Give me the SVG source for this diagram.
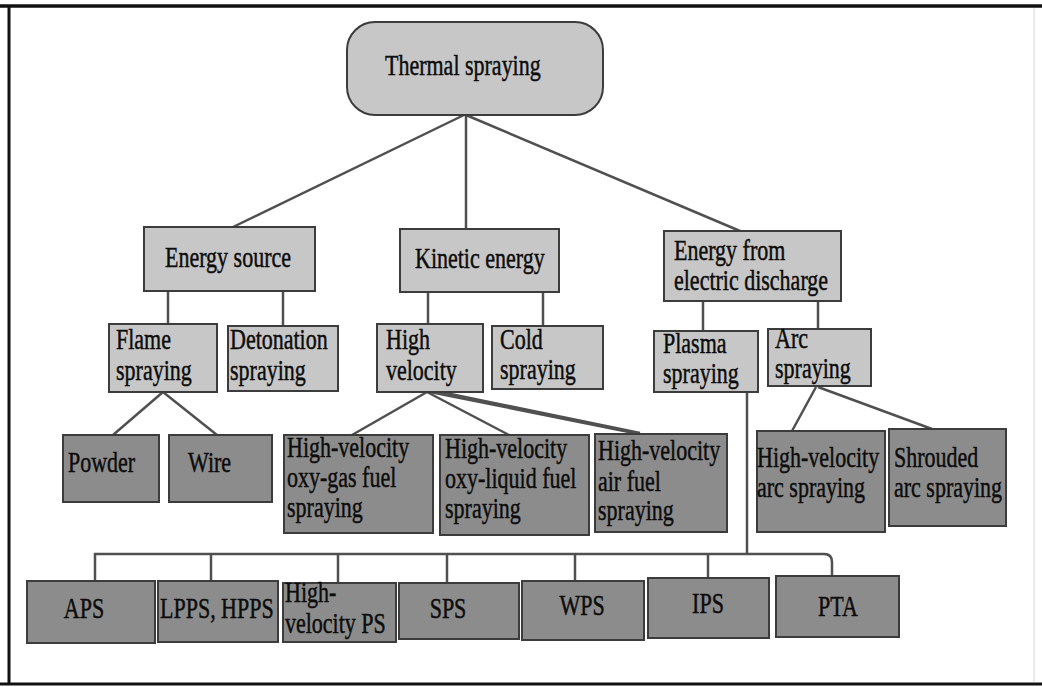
<svg xmlns="http://www.w3.org/2000/svg" width="1042" height="687" viewBox="0 0 1042 687">
<style>
.lt{fill:#c7c7c7;stroke:#3c3c3c;stroke-width:2}
.dk{fill:#8c8c8c;stroke:#3c3c3c;stroke-width:2}
.t{font-family:"Liberation Serif","Times New Roman",serif;font-size:22px;fill:#0c0c0c;stroke:#0c0c0c;stroke-width:0.35}
.c{text-anchor:middle}
.ln{stroke:#505050;stroke-width:2.5;fill:none}
</style>
<rect x="0" y="0" width="1042" height="687" fill="#ffffff"/>
<g id="frame">
<line x1="0" y1="6" x2="1042" y2="6" stroke="#111" stroke-width="3.5"/>
<line x1="9" y1="6" x2="9" y2="685" stroke="#111" stroke-width="3"/>
<line x1="0" y1="684" x2="1042" y2="684" stroke="#111" stroke-width="3"/>
<line x1="1034" y1="8" x2="1034" y2="682" stroke="#e4e4e4" stroke-width="1.5"/>
</g>
<g id="connectors" class="ln">
<line x1="464" y1="115" x2="233" y2="227"/>
<line x1="466" y1="115" x2="466" y2="229"/>
<line x1="466" y1="115" x2="740" y2="231"/>
<line x1="168" y1="291" x2="168" y2="324"/>
<line x1="283" y1="291" x2="283" y2="326"/>
<line x1="428" y1="292" x2="428" y2="324"/>
<line x1="543" y1="292" x2="543" y2="326"/>
<line x1="703" y1="301" x2="703" y2="331"/>
<line x1="818" y1="301" x2="818" y2="329"/>
<line x1="163" y1="392" x2="113" y2="435"/>
<line x1="163" y1="392" x2="217" y2="435"/>
<line x1="427" y1="392" x2="352" y2="435"/>
<line x1="427" y1="392" x2="509" y2="435"/>
<line x1="430" y1="392" x2="634" y2="433"/>
<line x1="436" y1="391" x2="640" y2="433"/>
<line x1="816" y1="387" x2="792" y2="431"/>
<line x1="818" y1="387" x2="932" y2="429"/>
<line x1="747" y1="392" x2="747" y2="554"/>
<path d="M95,581 V554 H824 Q832,554 832,562 V576"/>
<line x1="211" y1="554" x2="211" y2="581"/>
<line x1="338" y1="554" x2="338" y2="583"/>
<line x1="447" y1="554" x2="447" y2="583"/>
<line x1="575" y1="554" x2="575" y2="581"/>
<line x1="708" y1="554" x2="708" y2="578"/>
</g>
<g id="n-root">
<rect x="347" y="22" width="256" height="93" rx="28" ry="28" class="lt"/>
<text class="t" transform="translate(385,75) scale(1,1.35)">Thermal spraying</text>
</g>
<g id="n-energy-source">
<rect x="144" y="227" width="171" height="64" class="lt"/>
<text class="t" transform="translate(165,267) scale(1,1.35)">Energy source</text>
</g>
<g id="n-kinetic">
<rect x="400" y="229" width="159" height="63" class="lt"/>
<text class="t" transform="translate(415,268) scale(1,1.35)">Kinetic energy</text>
</g>
<g id="n-electric">
<rect x="664" y="231" width="177" height="70" class="lt"/>
<text class="t" transform="translate(674,260) scale(1,1.35)">Energy from<tspan x="0" dy="22.2">electric discharge</tspan></text>
</g>
<g id="n-flame">
<rect x="109" y="324" width="108" height="68" class="lt"/>
<text class="t" transform="translate(116,349) scale(1,1.35)">Flame<tspan x="0" dy="23">spraying</tspan></text>
</g>
<g id="n-detonation">
<rect x="228" y="326" width="110" height="65" class="lt"/>
<text class="t" transform="translate(230,349) scale(1,1.35)">Detonation<tspan x="0" dy="23">spraying</tspan></text>
</g>
<g id="n-high-velocity">
<rect x="377" y="324" width="106" height="68" class="lt"/>
<text class="t" transform="translate(386,349) scale(1,1.35)">High<tspan x="0" dy="23">velocity</tspan></text>
</g>
<g id="n-cold">
<rect x="492" y="326" width="111" height="63" class="lt"/>
<text class="t" transform="translate(500,349) scale(1,1.35)">Cold<tspan x="0" dy="22">spraying</tspan></text>
</g>
<g id="n-plasma">
<rect x="654" y="331" width="104" height="61" class="lt"/>
<text class="t" transform="translate(663,353) scale(1,1.35)">Plasma<tspan x="0" dy="22.2">spraying</tspan></text>
</g>
<g id="n-arc">
<rect x="768" y="329" width="103" height="57" class="lt"/>
<text class="t" transform="translate(775,348) scale(1,1.35)">Arc<tspan x="0" dy="22.2">spraying</tspan></text>
</g>
<g id="n-powder">
<rect x="63" y="435" width="96" height="67" class="dk"/>
<text class="t" transform="translate(68,472) scale(1,1.35)">Powder</text>
</g>
<g id="n-wire">
<rect x="169" y="435" width="103" height="67" class="dk"/>
<text class="t" transform="translate(188,472) scale(1,1.35)">Wire</text>
</g>
<g id="n-hvogf">
<rect x="284" y="435" width="149" height="98" class="dk"/>
<text class="t" transform="translate(287,457) scale(1,1.35)">High-velocity<tspan x="0" dy="22.2">oxy-gas fuel</tspan><tspan x="0" dy="22.2">spraying</tspan></text>
</g>
<g id="n-hvolf">
<rect x="440" y="435" width="149" height="100" class="dk"/>
<text class="t" transform="translate(445,458) scale(1,1.35)">High-velocity<tspan x="0" dy="22.2">oxy-liquid fuel</tspan><tspan x="0" dy="22.2">spraying</tspan></text>
</g>
<g id="n-hvaf">
<rect x="595" y="434" width="132" height="98" class="dk"/>
<text class="t" transform="translate(598,460) scale(1,1.35)">High-velocity<tspan x="0" dy="22.6">air fuel</tspan><tspan x="0" dy="22.2">spraying</tspan></text>
</g>
<g id="n-hvarc">
<rect x="757" y="431" width="128" height="101" class="dk"/>
<text class="t" transform="translate(757,467) scale(1,1.35)">High-velocity<tspan x="0" dy="22.2">arc spraying</tspan></text>
</g>
<g id="n-shrouded">
<rect x="889" y="429" width="117" height="97" class="dk"/>
<text class="t" transform="translate(894,467) scale(1,1.35)">Shrouded<tspan x="0" dy="22.2">arc spraying</tspan></text>
</g>
<g id="n-aps">
<rect x="27" y="581" width="128" height="62" class="dk"/>
<text class="t c" transform="translate(84,618) scale(1,1.35)">APS</text>
</g>
<g id="n-lpps">
<rect x="158" y="581" width="120" height="61" class="dk"/>
<text class="t" transform="translate(160,618) scale(1,1.35)">LPPS, HPPS</text>
</g>
<g id="n-hvps">
<rect x="283" y="583" width="113" height="59" class="dk"/>
<text class="t" transform="translate(285,602) scale(1,1.35)">High-<tspan x="0" dy="23">velocity PS</tspan></text>
</g>
<g id="n-sps">
<rect x="399" y="583" width="120" height="56" class="dk"/>
<text class="t c" transform="translate(448,618) scale(1,1.35)">SPS</text>
</g>
<g id="n-wps">
<rect x="522" y="581" width="122" height="59" class="dk"/>
<text class="t c" transform="translate(582,615) scale(1,1.35)">WPS</text>
</g>
<g id="n-ips">
<rect x="648" y="578" width="121" height="60" class="dk"/>
<text class="t c" transform="translate(708,613) scale(1,1.35)">IPS</text>
</g>
<g id="n-pta">
<rect x="776" y="576" width="123" height="61" class="dk"/>
<text class="t c" transform="translate(838,616) scale(1,1.35)">PTA</text>
</g>
</svg>
